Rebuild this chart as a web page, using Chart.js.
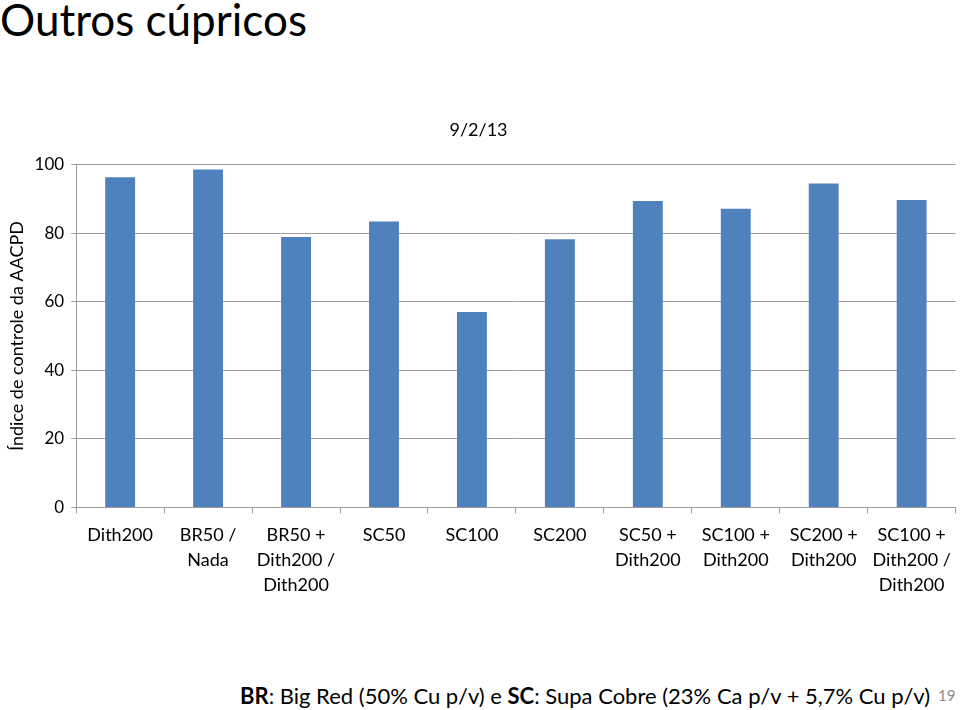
<!DOCTYPE html>
<html>
<head>
<meta charset="utf-8">
<script src="https://cdn.jsdelivr.net/npm/chart.js@4/dist/chart.umd.min.js"></script>
<style>
  html, body { margin: 0; padding: 0; background: #fff; }
  body { width: 960px; height: 710px; position: relative; overflow: hidden; font-family: Lato, "Open Sans", sans-serif; }
  #slideTitle { position: absolute; left: 0; top: -7px; font-size: 44px; color: #000; }
  #chartBox { position: absolute; left: 0; top: 100px; width: 960px; height: 520px; }
  #nota { position: absolute; left: 240px; top: 682px; font-size: 22px; color: #000; white-space: nowrap; }
  #pagina { position: absolute; left: 938px; top: 686px; font-size: 15px; color: #8c8c8c; }
</style>
</head>
<body>
<div id="slideTitle">Outros cúpricos</div>
<div id="chartBox"><canvas id="myChart"></canvas></div>
<div id="nota"><b>BR</b>: Big Red (50% Cu p/v) e <b>SC</b>: Supa Cobre (23% Ca p/v + 5,7% Cu p/v)</div>
<div id="pagina">19</div>
<script>
// --- DADOS ---
const categorias = [
  "Dith200",
  ["BR50 /", "Nada"],
  ["BR50 +", "Dith200 /", "Dith200"],
  "SC50",
  "SC100",
  "SC200",
  ["SC50 +", "Dith200"],
  ["SC100 +", "Dith200"],
  ["SC200 +", "Dith200"],
  ["SC100 +", "Dith200 /", "Dith200"],
];
const indiceAACPD = [96.3, 98.6, 78.9, 83.4, 57.0, 78.2, 89.4, 87.1, 94.5, 89.7];
const yTicks = [0, 20, 40, 60, 80, 100];
const tituloGrafico = "9/2/13";
const tituloEixoY = "Índice de controle da AACPD";

const fonte = "Lato, 'Open Sans', sans-serif";
const corGrade = "#9d9d9d";

document.addEventListener("DOMContentLoaded", () => {
  const ctx = document.getElementById("myChart").getContext("2d");

  new Chart(ctx, {
    type: "bar",
    data: {
      labels: categorias,
      datasets: [
        {
          data: indiceAACPD,
          backgroundColor: "#4f81bd",
          borderWidth: 0,
          barPercentage: 0.34,
          categoryPercentage: 1,
        },
      ],
    },
    options: {
      responsive: true,
      maintainAspectRatio: false,
      animation: false,
      layout: { padding: { left: 0, right: 3, top: 0, bottom: 13 } },
      plugins: {
        legend: { display: false },
        tooltip: { enabled: false },
        title: {
          display: true,
          text: tituloGrafico,
          color: "#000",
          font: { family: fonte, size: 18, weight: "normal" },
          padding: { top: 19, bottom: 24 },
        },
      },
      scales: {
        x: {
          offset: true,
          grid: {
            offset: true,
            drawOnChartArea: false,
            color: corGrade,
            tickLength: 6,
          },
          border: { color: corGrade },
          ticks: {
            color: "#000",
            font: { family: fonte, size: 18, lineHeight: 1.4 },
            maxRotation: 0,
            autoSkip: false,
            padding: 9,
          },
        },
        y: {
          min: 0,
          max: 100,
          afterBuildTicks: (axis) => {
            axis.ticks = yTicks.map((v) => ({ value: v }));
          },
          grid: { color: corGrade, tickLength: 5 },
          border: { color: corGrade },
          ticks: {
            color: "#000",
            font: { family: fonte, size: 17 },
            padding: 7,
          },
          title: {
            display: true,
            text: tituloEixoY,
            color: "#000",
            font: { family: fonte, size: 18 },
            padding: { top: 6, bottom: 0 },
          },
        },
      },
    },
  });
});
</script>
</body>
</html>
